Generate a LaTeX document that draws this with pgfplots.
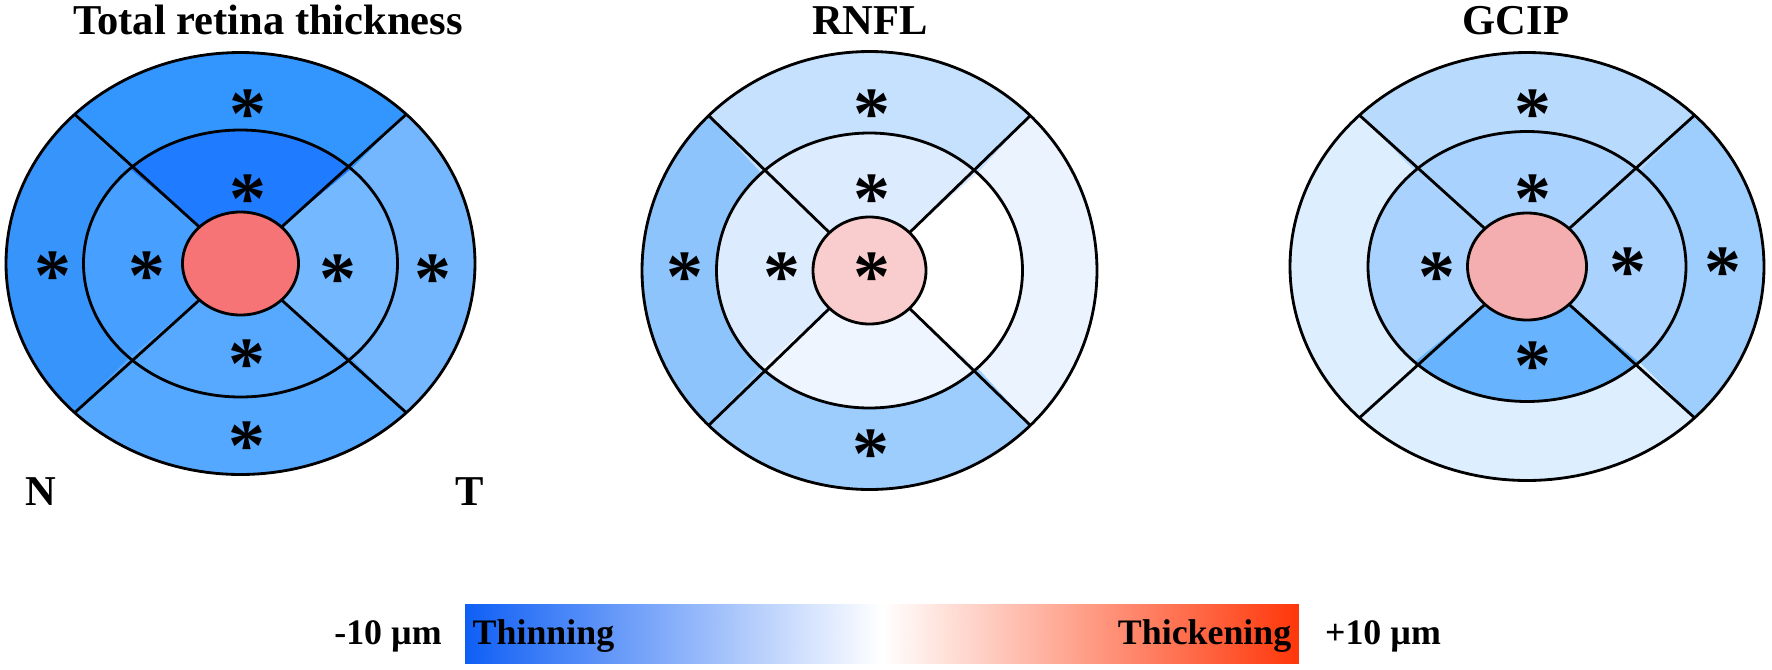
\documentclass[border=0pt]{standalone}
\usepackage{fontspec}
\setmainfont{Liberation Serif}
\usepackage{pgfplots}
\pgfplotsset{compat=1.18}
% colours of the sectors
\definecolor{tOS}{HTML}{3396FF}\definecolor{tON}{HTML}{3794FA}\definecolor{tOI}{HTML}{55A8FF}\definecolor{tOT}{HTML}{74B7FF}
\definecolor{tIS}{HTML}{1F7BFF}\definecolor{tIN}{HTML}{47A0FF}\definecolor{tII}{HTML}{56A9FF}\definecolor{tIT}{HTML}{74B8FF}
\definecolor{tC}{HTML}{F77476}
\definecolor{rOS}{HTML}{C6E1FD}\definecolor{rON}{HTML}{8DC4FC}\definecolor{rOI}{HTML}{9DCDFD}\definecolor{rOT}{HTML}{EBF4FE}
\definecolor{rIS}{HTML}{DCECFE}\definecolor{rIN}{HTML}{DCECFE}\definecolor{rII}{HTML}{EEF5FF}\definecolor{rIT}{HTML}{FFFFFF}
\definecolor{rC}{HTML}{F9CDCE}
\definecolor{gOS}{HTML}{B8DAFD}\definecolor{gON}{HTML}{DDEEFE}\definecolor{gOI}{HTML}{DDEEFE}\definecolor{gOT}{HTML}{9DCEFD}
\definecolor{gIS}{HTML}{A9D3FE}\definecolor{gIN}{HTML}{A9D3FE}\definecolor{gII}{HTML}{68B3FD}\definecolor{gIT}{HTML}{A9D3FE}
\definecolor{gC}{HTML}{F5AEAF}
\pgfplotsset{colormap={thick}{rgb255=(15,95,245) rgb255=(255,255,255) rgb255=(255,55,10)}}
% sector: cx cy Rx Ry rx ry a1 a2 colour
\newcommand{\sect}[9]{%
\addplot[fill=#9, draw=none, variable=\t, domain=0:41, samples=42, forget plot]
 ({#1+(\t<20.5 ? #3 : #5)*cos(\t<20.5 ? #7+(#8-#7)*\t/20 : #8-(#8-#7)*(\t-21)/20)},
  {#2+(\t<20.5 ? #4 : #6)*sin(\t<20.5 ? #7+(#8-#7)*\t/20 : #8-(#8-#7)*(\t-21)/20)});}
\newcommand{\ellring}[5][]{%
\addplot[draw=black, line width=0.8pt, line cap=round, variable=\t, domain=0:360, samples=181, forget plot, #1]
 ({#2+#4*cos(\t)},{#3+#5*sin(\t)});}
\newcommand{\spoke}[7]{%
\addplot[draw=black, line width=0.8pt, variable=\t, domain=0:1, samples=2, forget plot]
 ({#1+(#3+(#5-#3)*\t)*cos(#7)},{#2+(#4+(#6-#4)*\t)*sin(#7)});}
\newcommand{\spokes}[6]{\spoke{#1}{#2}{#3}{#4}{#5}{#6}{45}\spoke{#1}{#2}{#3}{#4}{#5}{#6}{135}\spoke{#1}{#2}{#3}{#4}{#5}{#6}{225}\spoke{#1}{#2}{#3}{#4}{#5}{#6}{315}}
\begin{document}
\begin{tikzpicture}
\begin{axis}[scale only axis, width=17.72cm, height=6.69cm,
  xmin=0, xmax=1772, ymin=0, ymax=669, y dir=reverse,
  hide axis, clip=false, colormap name=thick,
  point meta min=-10, point meta max=10]
\addplot[draw=none, forget plot] coordinates {(0,0) (1772,669)};
% ---------------- Total retina thickness (y reversed: 225-315 superior)
\sect{240.5}{263.5}{234.5}{211}{157}{133.5}{225}{315}{tOS}
\sect{240.5}{263.5}{234.5}{211}{157}{133.5}{135}{225}{tON}
\sect{240.5}{263.5}{234.5}{211}{157}{133.5}{45}{135}{tOI}
\sect{240.5}{263.5}{234.5}{211}{157}{133.5}{315}{405}{tOT}
\sect{240.5}{263.5}{157}{133.5}{58}{51.5}{225}{315}{tIS}
\sect{240.5}{263.5}{157}{133.5}{58}{51.5}{135}{225}{tIN}
\sect{240.5}{263.5}{157}{133.5}{58}{51.5}{45}{135}{tII}
\sect{240.5}{263.5}{157}{133.5}{58}{51.5}{315}{405}{tIT}
\ellring{240.5}{263.5}{234.5}{211}
\ellring{240.5}{263.5}{157}{133.5}
\spokes{240.5}{263.5}{58}{51.5}{234.5}{211}
\ellring[fill=tC]{240.5}{263.5}{58}{51.5}
% ---------------- RNFL
\sect{869.5}{270.5}{227.5}{219}{153}{137.5}{225}{315}{rOS}
\sect{869.5}{270.5}{227.5}{219}{153}{137.5}{135}{225}{rON}
\sect{869.5}{270.5}{227.5}{219}{153}{137.5}{45}{135}{rOI}
\sect{869.5}{270.5}{227.5}{219}{153}{137.5}{315}{405}{rOT}
\sect{869.5}{270.5}{153}{137.5}{56.5}{53.5}{225}{315}{rIS}
\sect{869.5}{270.5}{153}{137.5}{56.5}{53.5}{135}{225}{rIN}
\sect{869.5}{270.5}{153}{137.5}{56.5}{53.5}{45}{135}{rII}
\sect{869.5}{270.5}{153}{137.5}{56.5}{53.5}{315}{405}{rIT}
\ellring{869.5}{270.5}{227.5}{219}
\ellring{869.5}{270.5}{153}{137.5}
\spokes{869.5}{270.5}{56.5}{53.5}{227.5}{219}
\ellring[fill=rC]{869.5}{270.5}{56.5}{53.5}
% ---------------- GCIP
\sect{1527}{266.5}{237}{214}{159}{135}{225}{315}{gOS}
\sect{1527}{266.5}{237}{214}{159}{135}{135}{225}{gON}
\sect{1527}{266.5}{237}{214}{159}{135}{45}{135}{gOI}
\sect{1527}{266.5}{237}{214}{159}{135}{315}{405}{gOT}
\sect{1527}{266.5}{159}{135}{59.5}{53.5}{225}{315}{gIS}
\sect{1527}{266.5}{159}{135}{59.5}{53.5}{135}{225}{gIN}
\sect{1527}{266.5}{159}{135}{59.5}{53.5}{45}{135}{gII}
\sect{1527}{266.5}{159}{135}{59.5}{53.5}{315}{405}{gIT}
\ellring{1527}{266.5}{237}{214}
\ellring{1527}{266.5}{159}{135}
\spokes{1527}{266.5}{59.5}{53.5}{237}{214}
\ellring[fill=gC]{1527}{266.5}{59.5}{53.5}
% ---------------- significance asterisks
\addplot[only marks, mark=none, forget plot, nodes near coords={*},
  every node near coord/.append style={anchor=base, yshift=-11pt, inner sep=0pt,
    font=\fontsize{21}{21}\selectfont\bfseries}]
  coordinates {(248,100) (248,185) (53,262) (147,262) (338,265) (433,265) (247,350) (247,432)
               (872,100) (872,185) (685,263) (782,263) (872,263) (871,440)
               (1533,100) (1533,185) (1437,263) (1628,258) (1723,258) (1533,352)};
% ---------------- colour bar
\addplot[patch, shader=interp, point meta=explicit, forget plot] coordinates {
 (465,604)[-10] (673.25,604)[-5] (673.25,663)[-5]
 (465,604)[-10] (673.25,663)[-5] (465,663)[-10]
 (673.25,604)[-5] (881.5,604)[0] (881.5,663)[0]
 (673.25,604)[-5] (881.5,663)[0] (673.25,663)[-5]
 (881.5,604)[0] (1089.75,604)[5] (1089.75,663)[5]
 (881.5,604)[0] (1089.75,663)[5] (881.5,663)[0]
 (1089.75,604)[5] (1298,604)[10] (1298,663)[10]
 (1089.75,604)[5] (1298,663)[10] (1089.75,663)[5]};
% ---------------- texts
\tikzset{lbl/.style={inner sep=0pt, anchor=base, font=\fontsize{12.1}{14}\selectfont\bfseries},
         cb/.style={inner sep=0pt, anchor=base, font=\fontsize{10.2}{12}\selectfont\bfseries}}
\node[lbl] at (axis cs:268,34) {Total retina thickness};
\node[lbl] at (axis cs:870,34) {RNFL};
\node[lbl] at (axis cs:1516,34) {GCIP};
\node[lbl] at (axis cs:41,505) {N};
\node[lbl] at (axis cs:470,505) {T};
\node[cb] at (axis cs:388,644) {-10 µm};
\node[cb] at (axis cs:1383,644) {+10 µm};
\node[cb, anchor=base west] at (axis cs:472,644) {Thinning};
\node[cb, anchor=base east] at (axis cs:1292,644) {Thickening};
\end{axis}
\end{tikzpicture}
\end{document}
